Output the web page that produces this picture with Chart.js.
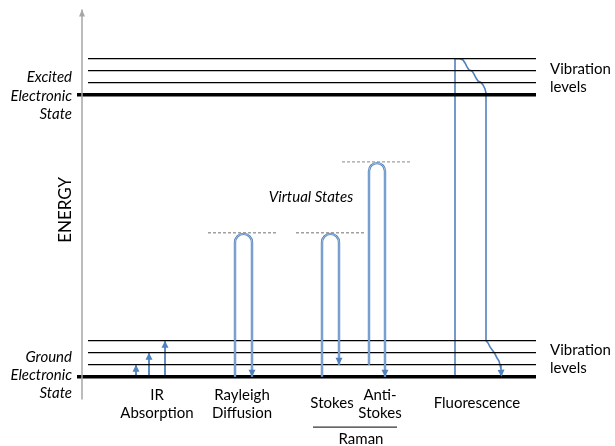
<!DOCTYPE html>
<html>
<head>
<meta charset="utf-8">
<script src="https://cdn.jsdelivr.net/npm/chart.js@4.4.1/dist/chart.umd.min.js"></script>
<style>
  html, body { margin: 0; padding: 0; background: #fff; }
  #c { display: block; }
</style>
</head>
<body>
<canvas id="c" width="615" height="446"></canvas>
<script>
// energy in units of one vibrational quantum, x = position along the diagram
const groundLevels = [0, 1, 2, 3];
const excitedLevels = [23.5, 24.5, 25.5, 26.5];
const levelSpan = [88, 536];
const electronicSpan = [77, 536];

// virtual states
const virtualStart = [208, 296, 342];
const virtualEnd = [276, 364, 410];
const virtualEnergy = [12.0, 12.0, 17.9];

// IR absorption
const irX = [136, 149, 165];
const irTo = [1, 2, 3];

// Rayleigh / Stokes / Anti-Stokes loops
const loopUpX = [235, 322, 369];
const loopDownX = [252, 339, 385];
const loopFrom = [0, 0, 1];
const loopTop = [11.9, 11.9, 17.8];
const loopTo = [0, 1, 0];

// fluorescence path
const fluoX = [455, 455, 460, 463, 465, 467, 469, 472, 474, 476, 478, 481, 483, 485, 486, 486,
               486, 488, 490, 493, 495, 497, 499, 500, 501, 501.5];
const fluoE = [0, 26.5, 26.5, 26.39, 26.14, 25.81, 25.56, 25.48, 25.22, 24.89, 24.64, 24.52, 24.31, 23.98, 23.64, 23.48,
               3.0, 2.81, 2.48, 2.14, 1.89, 1.56, 1.31, 0.98, 0.64, 0];

const axisX = 82;
const axisRange = [-1.9, 30.6];
const ramanLine = [313, 397, -4.2];

const texts = [
  { t: 'Excited', x: 72, e: 24.95, align: 'right', it: true },
  { t: 'Electronic', x: 72, e: 23.4, align: 'right', it: true },
  { t: 'State', x: 72, e: 21.9, align: 'right', it: true },
  { t: 'Ground', x: 72, e: 1.65, align: 'right', it: true },
  { t: 'Electronic', x: 72, e: 0.1, align: 'right', it: true },
  { t: 'State', x: 72, e: -1.4, align: 'right', it: true },
  { t: 'Vibration', x: 550, e: 25.6, align: 'left' },
  { t: 'levels', x: 550, e: 24.1, align: 'left' },
  { t: 'Vibration', x: 550, e: 2.2, align: 'left' },
  { t: 'levels', x: 550, e: 0.7, align: 'left' },
  { t: 'IR', x: 157, e: -1.5 },
  { t: 'Absorption', x: 157, e: -3.0 },
  { t: 'Rayleigh', x: 242, e: -1.5 },
  { t: 'Diffusion', x: 242, e: -3.0 },
  { t: 'Stokes', x: 332, e: -2.2 },
  { t: 'Anti-', x: 380, e: -1.5 },
  { t: 'Stokes', x: 380, e: -3.0 },
  { t: 'Fluorescence', x: 477, e: -2.2 },
  { t: 'Raman', x: 361, e: -5.2 },
  { t: 'Virtual States', x: 311, e: 14.95, it: true }
];

const blue = '#4f81bd';
const FONT = 'Lato, "Open Sans", sans-serif';

function seg(x0, y0, x1, y1, color, width, extra) {
  return Object.assign({
    data: [{ x: x0, y: y0 }, { x: x1, y: y1 }],
    showLine: true, borderColor: color, borderWidth: width,
    pointRadius: 0, fill: false
  }, extra || {});
}

const datasets = [];
// energy axis
datasets.push(seg(axisX, axisRange[0], axisX, axisRange[1], '#a6a6a6', 1.5, { arrow: { len: 7, half: 3 } }));
// levels
[groundLevels, excitedLevels].forEach(levels => {
  levels.forEach((e, i) => {
    const span = i === 0 ? electronicSpan : levelSpan;
    datasets.push(seg(span[0], e, span[1], e, '#000', i === 0 ? 3.5 : 1.3));
  });
});
// virtual states
virtualEnergy.forEach((e, i) => {
  datasets.push(seg(virtualStart[i], e, virtualEnd[i], e, '#a0a0a0', 1.4, { borderDash: [3, 2] }));
});
// IR arrows
irX.forEach((x, i) => {
  datasets.push(seg(x, 0, x, irTo[i], blue, 1.8, { arrow: { len: 7, half: 3.5 } }));
});
// fluorescence
datasets.push({
  data: fluoX.map((x, i) => ({ x: x, y: fluoE[i] })),
  showLine: true, borderColor: blue, borderWidth: 1.6, pointRadius: 0,
  fill: false, arrow: { len: 7, half: 3.5 }
});
// Raman bracket
datasets.push(seg(ramanLine[0], ramanLine[2], ramanLine[1], ramanLine[2], '#000', 1));

function arrowHead(ctx, x0, y0, x1, y1, color, len, half) {
  const a = Math.atan2(y1 - y0, x1 - x0);
  ctx.save();
  ctx.translate(x1, y1);
  ctx.rotate(a);
  ctx.beginPath();
  ctx.moveTo(0, 0);
  ctx.lineTo(-len, -half);
  ctx.lineTo(-len, half);
  ctx.closePath();
  ctx.fillStyle = color;
  ctx.fill();
  ctx.restore();
}

const diagramPlugin = {
  id: 'diagram',
  afterDatasetsDraw(chart) {
    const ctx = chart.ctx;
    const xs = chart.scales.x, ys = chart.scales.y;

    // arrowheads at the end of flagged datasets
    chart.data.datasets.forEach((ds, i) => {
      if (!ds.arrow) return;
      const pts = chart.getDatasetMeta(i).data;
      const a = pts[pts.length - 2], b = pts[pts.length - 1];
      arrowHead(ctx, a.x, a.y, b.x, b.y, ds.borderColor, ds.arrow.len, ds.arrow.half);
    });

    // scattering loops
    loopUpX.forEach((xu, i) => {
      const xa = xs.getPixelForValue(xu);
      const xb = xs.getPixelForValue(loopDownX[i]);
      const r = (xb - xa) / 2;
      const cy = ys.getPixelForValue(loopTop[i]) + r;
      const yEnd = ys.getPixelForValue(loopTo[i]);
      ctx.save();
      ctx.beginPath();
      ctx.moveTo(xa, ys.getPixelForValue(loopFrom[i]));
      ctx.lineTo(xa, cy);
      ctx.arc(xa + r, cy, r, Math.PI, 0);
      ctx.lineTo(xb, yEnd);
      ctx.strokeStyle = blue;
      ctx.lineWidth = 2.4;
      ctx.stroke();
      ctx.strokeStyle = '#c9d9ee';
      ctx.lineWidth = 0.7;
      ctx.stroke();
      ctx.restore();
      arrowHead(ctx, xb, cy, xb, yEnd, blue, 7, 3.5);
    });

    // text
    ctx.save();
    ctx.fillStyle = '#000';
    ctx.textBaseline = 'middle';
    texts.forEach(l => {
      ctx.font = (l.it ? 'italic ' : '') + '15px ' + FONT;
      ctx.textAlign = l.align || 'center';
      ctx.fillText(l.t, xs.getPixelForValue(l.x), ys.getPixelForValue(l.e));
    });
    ctx.translate(xs.getPixelForValue(66), ys.getPixelForValue(13.9));
    ctx.rotate(-Math.PI / 2);
    ctx.textAlign = 'center';
    ctx.font = '17px ' + FONT;
    ctx.fillText('ENERGY', 0, 0);
    ctx.restore();
  }
};

new Chart(document.getElementById('c'), {
  type: 'scatter',
  data: { datasets: datasets },
  options: {
    responsive: false,
    animation: false,
    devicePixelRatio: 1,
    layout: { padding: 0 },
    elements: { line: { tension: 0 }, point: { radius: 0 } },
    plugins: { legend: { display: false }, tooltip: { enabled: false } },
    scales: {
      x: { type: 'linear', min: 0, max: 615, display: false },
      y: { type: 'linear', min: -5.775, max: 31.39, display: false }
    }
  },
  plugins: [diagramPlugin]
});
</script>
</body>
</html>
